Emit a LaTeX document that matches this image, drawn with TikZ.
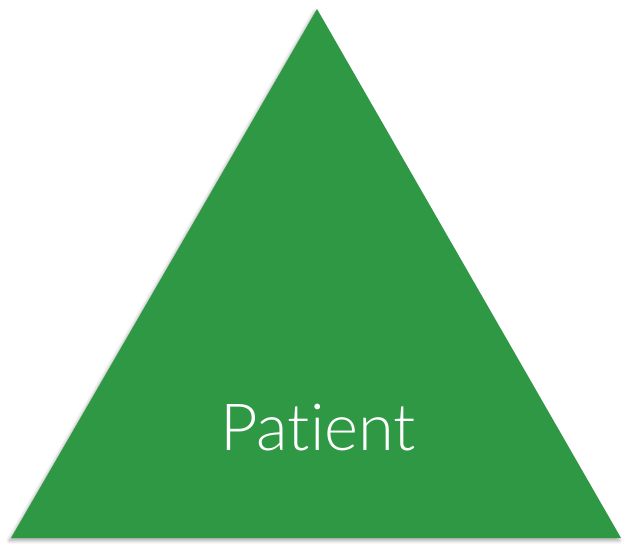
\documentclass[tikz,border=0pt]{standalone}
\usepackage{fontspec}
\setmainfont{Lato Light}[Ligatures={NoCommon,NoRare,NoDiscretionary}]
\usepackage{tikz}
\usetikzlibrary{shadows.blur}
\definecolor{patientgreen}{RGB}{47,152,68}

\begin{document}
\begin{tikzpicture}[
    x=0.02cm, y=-0.02cm,
    tri/.style={fill=patientgreen, draw=none, blur shadow={shadow xshift=-1pt, shadow yshift=-1.5pt, shadow blur steps=6, shadow opacity=35}},
    label/.style={text=white, font=\fontsize{37}{37}\selectfont, inner sep=0pt}
]
\useasboundingbox (0,0) rectangle (622,544);
\coordinate (apex) at (317,9);
\coordinate (left) at (11,538);
\coordinate (right) at (621,538);
\path[tri] (apex) -- (right) -- (left) -- cycle;

% text
\node[label, anchor=base] (patient) at (318,450) {Patient};
\end{tikzpicture}
\end{document}
